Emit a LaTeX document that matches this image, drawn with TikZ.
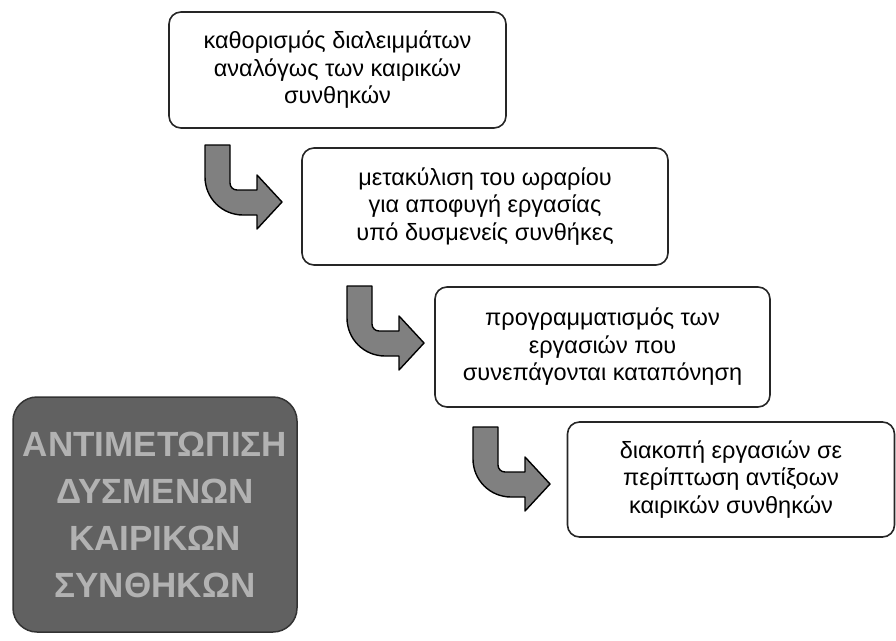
\documentclass[tikz,border=0pt]{standalone}
\usepackage{fontspec}
\setmainfont{Liberation Sans}
\begin{document}
\begin{tikzpicture}[x=1pt,y=-1pt,
  stepbox/.style={draw=black!85,line width=1.6pt,rounded corners=12pt,fill=white,
    align=center,font=\fontsize{23.5}{27.5}\selectfont,inner sep=0pt},
  titlebox/.style={draw=black!80,line width=1.5pt,rounded corners=24pt,fill=black!62,
    align=center,inner sep=0pt,text=black!30,
    font=\fontsize{35}{47}\selectfont\bfseries},
  bentarrow/.style={draw=black,line width=1.4pt,fill=black!50,line join=round},
  pics/bent/.style={code={
    \draw[bentarrow] (0,0) -- (25,0) -- (25,38) to[out=270,in=180] (32,45) -- (52,45) -- (52,30)
      -- (77,57) -- (52,84) -- (52,70) -- (38,70) to[out=180,in=270] (0,32) -- cycle;
  }}]
\useasboundingbox (0,0) rectangle (896,640);
\node[stepbox,minimum width=337pt,minimum height=116pt] (b1) at (337.5,70)
  {καθορισμός διαλειμμάτων\\αναλόγως των καιρικών\\συνθηκών};
\node[stepbox,minimum width=366pt,minimum height=117pt] (b2) at (485,206.5)
  {μετακύλιση του ωραρίου\\για αποφυγή εργασίας\\υπό δυσμενείς συνθήκες};
\node[stepbox,minimum width=335pt,minimum height=120pt] (b3) at (602.5,347)
  {προγραμματισμός των\\εργασιών που\\συνεπάγονται καταπόνηση};
\node[stepbox,minimum width=327pt,minimum height=115pt] (b4) at (731,479.5)
  {διακοπή εργασιών σε\\περίπτωση αντίξοων\\καιρικών συνθηκών};
\node[titlebox,minimum width=284pt,minimum height=235pt] (t) at (155,514.5)
  {ΑΝΤΙΜΕΤΩΠΙΣΗ\\ΔΥΣΜΕΝΩΝ\\ΚΑΙΡΙΚΩΝ\\ΣΥΝΘΗΚΩΝ};
\pic at (205,145) {bent};
\pic at (347,286) {bent};
\pic at (473,427) {bent};
\end{tikzpicture}
\end{document}
